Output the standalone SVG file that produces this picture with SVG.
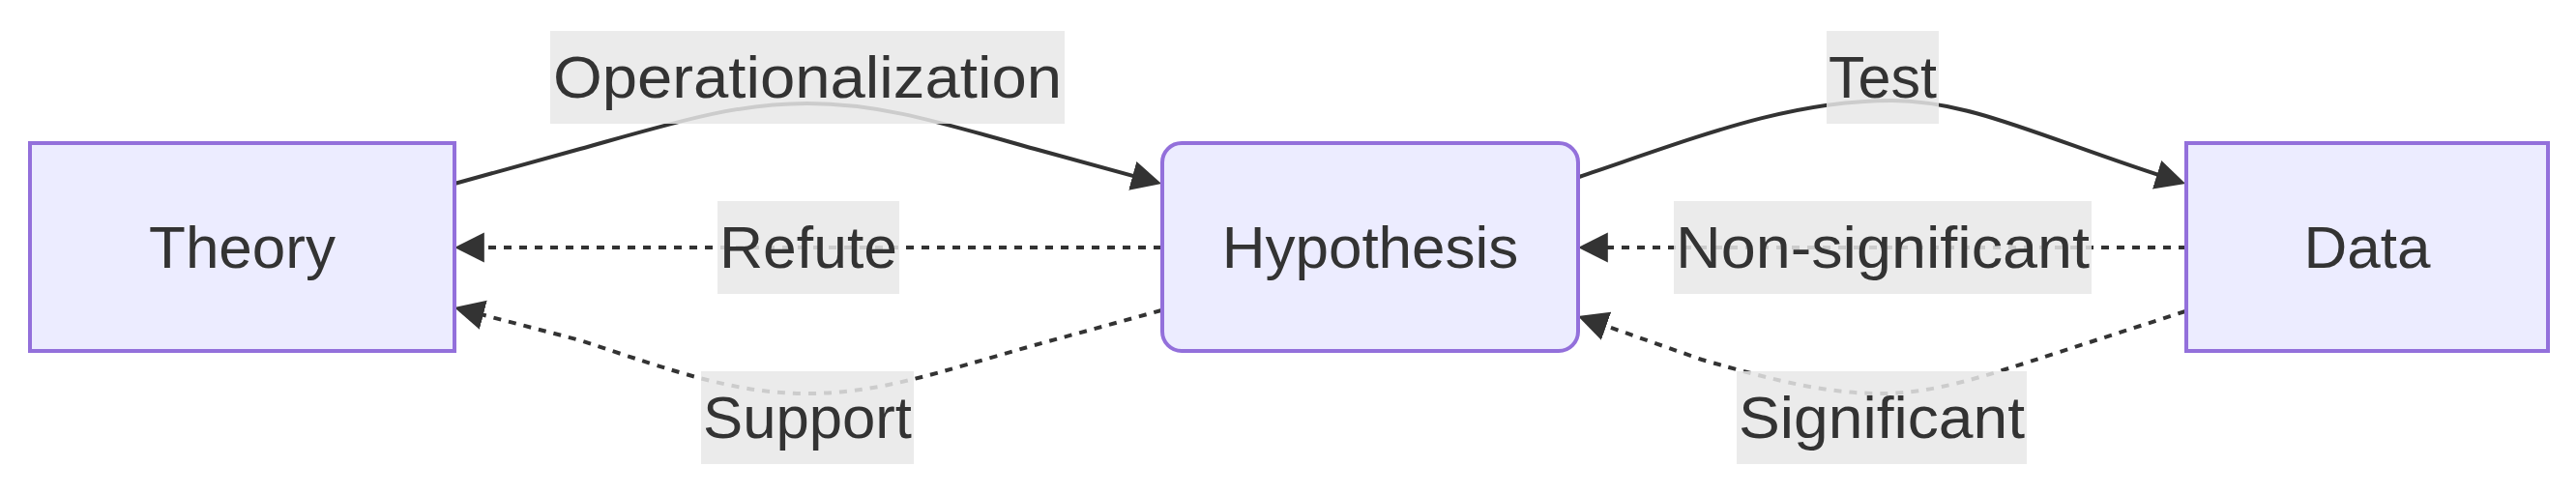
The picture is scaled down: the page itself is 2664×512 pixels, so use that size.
<svg xmlns="http://www.w3.org/2000/svg" width="2664" height="512" viewBox="0 0 2664 512">
<style>
.node rect{fill:#ECECFF;stroke:#9370DB;stroke-width:4}
.node text{font-family:"Liberation Sans",Arial,sans-serif;font-size:62px;fill:#333;text-anchor:middle}
.edge{fill:none;stroke:#333;stroke-width:4;marker-end:url(#arrow)}
.dotted{stroke-dasharray:8 8}
.lbl rect{fill:#e8e8e8;fill-opacity:0.85}
.lbl text{font-family:"Liberation Sans",Arial,sans-serif;font-size:62px;fill:#333;text-anchor:middle}
</style>
<defs>
<marker id="arrow" viewBox="0 0 10 10" refX="8" refY="5" markerWidth="31" markerHeight="32" markerUnits="userSpaceOnUse" orient="auto">
<path d="M0,0 L10,5 L0,10 z" fill="#333"/>
</marker>
</defs>
<rect width="2664" height="512" fill="#fff"/>
<g id="connectors">
<path class="edge" d="M470,190 L600,154 C700,126 760,107 835,107 C910,107 970,126 1070,154 L1195.2,188.4"/>
<path class="edge" d="M1633,183 C1760,140 1850,104 1957,104 C2040,104 2120,146 2254.3,188.1"/>
<path class="edge dotted" d="M1201,256 L476,256"/>
<path class="edge dotted" d="M1201,321 L1070,357 C970,385 910,407 835,407 C760,407 700,385 600,352 L475.8,319.5"/>
<path class="edge dotted" d="M2261,256 L1638,256"/>
<path class="edge dotted" d="M2260,322 L2130,364 C2050,390 2000,407 1946,407 C1890,407 1840,395 1760,372 L1637.7,329"/>
</g>
<g id="edge-labels">
<g class="lbl" id="label-operationalization"><rect x="569" y="32" width="532" height="96"/><text x="835" y="101" textLength="526" lengthAdjust="spacingAndGlyphs">Operationalization</text></g>
<g class="lbl" id="label-test"><rect x="1889" y="32" width="116" height="96"/><text x="1947" y="101" textLength="112" lengthAdjust="spacingAndGlyphs">Test</text></g>
<g class="lbl" id="label-refute"><rect x="742" y="208" width="188" height="96"/><text x="836" y="277" textLength="184" lengthAdjust="spacingAndGlyphs">Refute</text></g>
<g class="lbl" id="label-nonsignificant"><rect x="1731" y="208" width="432" height="96"/><text x="1947" y="277" textLength="428" lengthAdjust="spacingAndGlyphs">Non-significant</text></g>
<g class="lbl" id="label-support"><rect x="725" y="384" width="220" height="96"/><text x="835" y="453" textLength="216" lengthAdjust="spacingAndGlyphs">Support</text></g>
<g class="lbl" id="label-significant"><rect x="1796" y="384" width="300" height="96"/><text x="1946" y="453" textLength="296" lengthAdjust="spacingAndGlyphs">Significant</text></g>
</g>
<g class="node" id="node-theory"><rect x="31" y="148" width="439" height="215"/><text x="250.5" y="277">Theory</text></g>
<g class="node" id="node-hypothesis"><rect x="1202" y="148" width="430" height="215" rx="20" ry="20"/><text x="1417" y="277">Hypothesis</text></g>
<g class="node" id="node-data"><rect x="2261" y="148" width="374" height="215"/><text x="2448" y="277">Data</text></g>
</svg>
